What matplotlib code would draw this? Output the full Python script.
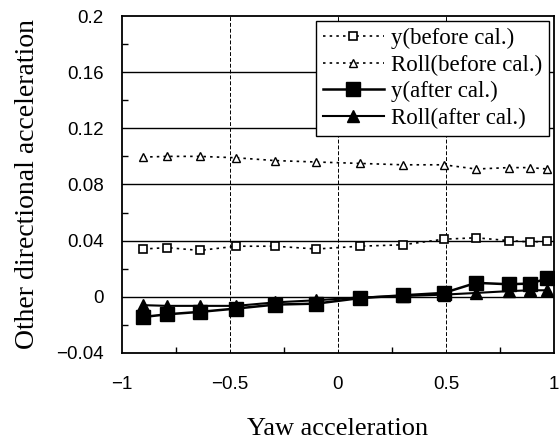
import matplotlib.pyplot as plt
import numpy as np

# yaw acceleration (x) and the other directional accelerations
x = np.array([-0.9, -0.79, -0.64, -0.47, -0.29, -0.1, 0.1, 0.3, 0.49, 0.64, 0.79, 0.89, 0.97])

y_before = np.array([0.034, 0.035, 0.033, 0.036, 0.036, 0.034, 0.036, 0.037, 0.041, 0.042, 0.040, 0.039, 0.0395])
roll_before = np.array([0.0995, 0.100, 0.100, 0.099, 0.097, 0.096, 0.095, 0.094, 0.094, 0.091, 0.092, 0.092, 0.091])
y_after = np.array([-0.0144, -0.0125, -0.0108, -0.0084, -0.0056, -0.0049, -0.001, 0.001, 0.0027, 0.0099, 0.0089, 0.0094, 0.013])
roll_after = np.array([-0.006, -0.0065, -0.0065, -0.0065, -0.004, -0.0025, -0.0005, 0.0005, 0.0015, 0.0027, 0.004, 0.0046, 0.0046])

xticks = [-1, -0.5, 0, 0.5, 1]
xtick_labels = ["\u22121", "\u22120.5", "0", "0.5", "1"]
yticks = [-0.04, 0, 0.04, 0.08, 0.12, 0.16, 0.2]
ytick_labels = ["\u22120.04", "0", "0.04", "0.08", "0.12", "0.16", "0.2"]

fig = plt.figure(figsize=(5.59, 4.45), dpi=100)
ax = fig.add_axes([0.218, 0.207, 0.773, 0.757])

ax.plot(x, y_before, color="black", linestyle=(0, (1.5, 2.5)), linewidth=1.2,
        marker="s", markersize=6, markerfacecolor="white", markeredgewidth=1.2,
        label="y(before cal.)")
ax.plot(x, roll_before, color="black", linestyle=(0, (1.5, 2.5)), linewidth=1.2,
        marker="^", markersize=6, markerfacecolor="white", markeredgewidth=1.0,
        label="Roll(before cal.)")
ax.plot(x, y_after, color="black", linewidth=1.8,
        marker="s", markersize=9.5, label="y(after cal.)")
ax.plot(x, roll_after, color="black", linewidth=1.5,
        marker="^", markersize=8, label="Roll(after cal.)")

ax.set_xlim(-1, 1)
ax.set_ylim(-0.04, 0.2)
ax.set_xticks(xticks)
ax.set_xticklabels(xtick_labels, fontsize=13.5, family="Liberation Sans")
ax.set_yticks(yticks)
ax.set_yticklabels(ytick_labels, fontsize=13.5, family="Liberation Sans")
ax.set_xticks([-0.75, -0.25, 0.25, 0.75], minor=True)
ax.set_yticks(np.arange(-0.02, 0.2, 0.04), minor=True)

ax.tick_params(which="both", direction="in", length=4, width=1)
ax.tick_params(axis="y", which="major", length=0, pad=13)
ax.tick_params(axis="x", which="major", length=0, pad=17)

# grid: solid horizontals, dashed verticals
for yv in [0, 0.04, 0.08, 0.12, 0.16]:
    ax.axhline(yv, color="black", linewidth=1.0, zorder=0)
for xv in [-0.5, 0, 0.5]:
    ax.axvline(xv, color="black", linewidth=0.7, linestyle=(0, (4, 2)), zorder=0)

for sp in ax.spines.values():
    sp.set_linewidth(1.3)

ax.set_xlabel("Yaw acceleration", family="Liberation Serif", fontsize=19, labelpad=18)
ax.set_ylabel("Other directional acceleration", family="Liberation Serif", fontsize=20, labelpad=12)

leg = ax.legend(loc="upper right", prop={"family": "Liberation Serif", "size": 16.5},
                frameon=True, fancybox=False, edgecolor="black", framealpha=1,
                borderpad=0.3, labelspacing=0.25, handlelength=2.7, handletextpad=0.3,
                borderaxespad=0.2)
leg.get_frame().set_linewidth(1.0)

fig.savefig("out.png", dpi=100)
